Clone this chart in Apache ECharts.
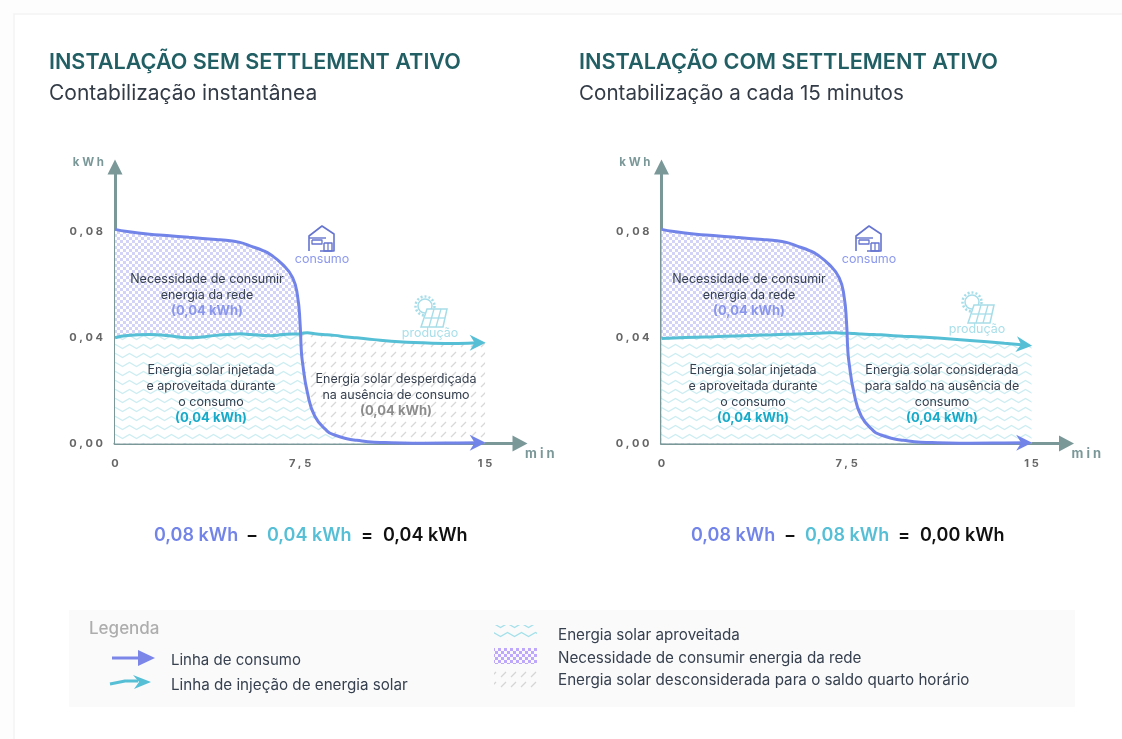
<!DOCTYPE html>
<html>
<head>
<meta charset="utf-8">
<title>Settlement</title>
<script src="https://cdn.jsdelivr.net/npm/echarts@6/dist/echarts.min.js"></script>
<style>
    html, body { margin:0; padding:0; background:#fff; }
    #chart { width:1122px; height:739px; }
</style>
</head>
<body>
<div id="chart"></div>
<script>
// values: minutes / kWh
const times = [0,0.5,1.4,2.1,3,4.1,4.5,5.1,5.5,6,6.3,6.8,7.2,7.4,7.5,7.55,7.6,7.8,8.1,8.6,8.9,9.4,9.8,10.5,11.2,12.5,13.9,14.7,15];
const consumo = [0.0808,0.0800,0.0790,0.0785,0.0778,0.0770,0.0767,0.0758,0.0745,0.0728,0.0713,0.0675,0.0626,0.0556,0.0457,0.0355,0.0306,0.0192,0.0103,0.0047,0.0032,0.0018,0.0012,0.0005,0.0003,0.0001,0.0002,0.0003,0.0003];
const solarEsq = [0.0399,0.0408,0.0411,0.0408,0.0399,0.0408,0.0411,0.0414,0.0411,0.0408,0.0407,0.0411,0.0413,0.0413,0.0413,0.0414,0.0416,0.0418,0.0414,0.0410,0.0408,0.0402,0.0399,0.0392,0.0386,0.0380,0.0377,0.0380,0.0380];
const solarDir = [0.0396,0.0398,0.0401,0.0403,0.0406,0.0409,0.0410,0.0412,0.0413,0.0415,0.0416,0.0418,0.0417,0.0416,0.0416,0.0416,0.0416,0.0415,0.0413,0.0411,0.0410,0.0407,0.0405,0.0402,0.0398,0.0389,0.0378,0.0372,0.0372];
const yTicks = [0, 0.04, 0.08];
const yTickLabels = ['0,00', '0,04', '0,08'];
const xTicks = [0, 7.5, 15];
const xTickLabels = ['0', '7,5', '15'];

const FONT = 'Inter, "Noto Sans", sans-serif';
const AZUL = '#7384e8';
const CIANO = '#56bfd6';
const EIXO = '#7b9899';
const TEXTO = '#36404f';
const ARROW = 'path://M0,0 L16,8 L0,16 L5,8 Z';

function tile(w, h, draw) {
    const c = document.createElement('canvas');
    c.width = w; c.height = h;
    const ctx = c.getContext('2d');
    draw(ctx);
    return { image: c, repeat: 'repeat' };
}
function wavePattern(color, bg) {
    return tile(14, 9, ctx => {
        if (bg) { ctx.fillStyle = bg; ctx.fillRect(0, 0, 14, 9); }
        ctx.strokeStyle = color;
        ctx.lineWidth = 1.3;
        ctx.beginPath();
        ctx.moveTo(-3.5, 6.5); ctx.lineTo(3.5, 2.5); ctx.lineTo(10.5, 6.5); ctx.lineTo(17.5, 2.5);
        ctx.stroke();
    });
}
function checkPattern(color, bg) {
    return tile(6, 6, ctx => {
        if (bg) { ctx.fillStyle = bg; ctx.fillRect(0, 0, 6, 6); }
        ctx.fillStyle = color;
        ctx.fillRect(0, 0, 3, 3);
        ctx.fillRect(3, 3, 3, 3);
    });
}
function hatchPattern(color, bg) {
    return tile(10, 10, ctx => {
        if (bg) { ctx.fillStyle = bg; ctx.fillRect(0, 0, 10, 10); }
        ctx.strokeStyle = color;
        ctx.lineWidth = 1.3;
        ctx.beginPath();
        ctx.moveTo(1, 7); ctx.lineTo(6, 2);
        ctx.stroke();
    });
}

const PX_POR_MIN = 24.67;
const PX_POR_KWH = 2650;
const gridW = 405, gridH = 276.5;
const grids = [
    { left: 115, top: 167, width: gridW, height: gridH },
    { left: 661.5, top: 167, width: gridW, height: gridH }
];

function spaced(s) { return s.split('').join('\u2009\u200a'); }

function xAxisFor(i) {
    return {
        type: 'value', gridIndex: i, min: 0, max: gridW / PX_POR_MIN,
        splitLine: { show: false },
        axisTick: { show: false },
        axisLine: { show: true, symbol: ['none', 'triangle'], symbolSize: [16, 15], lineStyle: { color: EIXO, width: 3 } },
        axisLabel: {
            customValues: xTicks, margin: 15, color: '#666', fontFamily: FONT, fontSize: 11, fontWeight: 700,
            formatter: v => spaced(xTickLabels[xTicks.indexOf(v)])
        },
        name: spaced('min'), nameLocation: 'end', nameGap: 5,
        nameTextStyle: { color: EIXO, fontFamily: FONT, fontSize: 13, fontWeight: 700, align: 'left', verticalAlign: 'top', padding: [4, 0, 0, 0] }
    };
}
function yAxisFor(i) {
    return {
        type: 'value', gridIndex: i, min: 0, max: gridH / PX_POR_KWH,
        splitLine: { show: false },
        axisTick: { show: false },
        axisLine: { show: true, symbol: ['none', 'triangle'], symbolSize: [15, 15], lineStyle: { color: EIXO, width: 3 } },
        axisLabel: {
            customValues: yTicks, margin: 12, color: '#666', fontFamily: FONT, fontSize: 11, fontWeight: 700,
            formatter: v => spaced(yTickLabels[yTicks.indexOf(v)])
        },
        name: spaced('kWh'), nameLocation: 'end', nameGap: 4,
        nameTextStyle: { color: EIXO, fontFamily: FONT, fontSize: 11.5, fontWeight: 700, align: 'right', verticalAlign: 'middle', padding: [0, 11, 0, 0] }
    };
}

function pairs(ys) { return times.map((t, k) => [t, ys[k]]); }

function area(i, name, ys, fill, z) {
    return {
        name: name, type: 'line', xAxisIndex: i, yAxisIndex: i, data: pairs(ys), z: z,
        smooth: 0.5, showSymbol: false, symbol: 'none', silent: true,
        lineStyle: { width: 0 }, areaStyle: { color: fill, opacity: 1 }
    };
}
function curve(i, name, ys, color, rotate, z) {
    // the line stops at 14.7 so that the arrow tip lands on 15
    const n = times.indexOf(14.7);
    const data = pairs(ys).slice(0, n + 1);
    data[n] = { value: data[n], symbol: ARROW, symbolSize: 16, symbolRotate: rotate, itemStyle: { color: color } };
    return {
        name: name, type: 'line', xAxisIndex: i, yAxisIndex: i, data: data, z: z,
        smooth: 0.5, showSymbol: true, showAllSymbol: true, symbol: 'none', silent: true,
        lineStyle: { color: color, width: 3 }, itemStyle: { color: color }
    };
}

const waveFill = wavePattern('#ccedf2', '#fff');
const checkFill = checkPattern('#d2d3f6', '#fff');
const hatchFill = hatchPattern('#d8d8d8', '#fff');
const minimo = consumo.map((c, k) => Math.min(c, solarEsq[k]));

const series = [
    area(0, 'Energia solar desconsiderada', solarEsq, hatchFill, 2),
    area(0, 'Necessidade de consumir energia da rede', consumo, checkFill, 3),
    area(0, 'Energia solar aproveitada', minimo, waveFill, 4),
    curve(0, 'Linha de injeção de energia solar', solarEsq, CIANO, 0, 6),
    curve(0, 'Linha de consumo', consumo, AZUL, 0, 7),
    area(1, 'Necessidade de consumir energia da rede', consumo, checkFill, 3),
    area(1, 'Energia solar aproveitada', solarDir, waveFill, 4),
    curve(1, 'Linha de injeção de energia solar', solarDir, CIANO, -6, 6),
    curve(1, 'Linha de consumo', consumo, AZUL, 0, 7)
];

function txt(x, y, text, size, fill, weight, align, glow) {
    const style = {
        text: text, fill: fill, textAlign: align || 'left', textVerticalAlign: 'middle',
        font: (weight || 400) + ' ' + size + 'px ' + FONT
    };
    if (glow) { style.shadowColor = '#fff'; style.shadowBlur = 5; }
    return { type: 'text', x: x, y: y, z: 20, silent: true, style: style };
}
function stroke(points, color, width, z) {
    return { type: 'polyline', z: z || 20, silent: true, shape: { points: points },
        style: { stroke: color, fill: null, lineWidth: width, lineJoin: 'round' } };
}
function house(dx, dy) {
    const c = '#6574cf';
    const p = a => a.map(q => [q[0] + dx, q[1] + dy]);
    return [
        stroke(p([[9,25],[9,10],[22,0],[34,8],[34,25],[20,25]]), c, 1.6),
        stroke(p([[9,12],[26,12]]), c, 1.4),
        stroke(p([[12,14],[22,14],[22,18],[12,18],[12,14]]), c, 1.3),
        stroke(p([[24,17],[32,17],[32,25],[24,25],[24,17]]), c, 1.4),
        stroke(p([[28,17],[28,25]]), c, 1.2)
    ];
}
function solarIcon(dx, dy) {
    const c = '#a6dde9';
    const p = a => a.map(q => [q[0] + dx, q[1] + dy]);
    return [
        { type: 'circle', z: 20, silent: true, shape: { cx: dx + 11, cy: dy + 11, r: 7 },
          style: { stroke: c, fill: null, lineWidth: 1.5 } },
        { type: 'circle', z: 20, silent: true, shape: { cx: dx + 11, cy: dy + 11, r: 9.5 },
          style: { stroke: c, fill: null, lineWidth: 2.5, lineDash: [2, 2] } },
        { type: 'polygon', z: 21, silent: true, shape: { points: p([[13,14],[33,14],[29,32],[7,32]]) },
          style: { stroke: c, fill: '#fff', lineWidth: 1.5 } },
        stroke(p([[11,23],[31,23]]), c, 1.3, 22),
        stroke(p([[20,14],[15,32]]), c, 1.3, 22),
        stroke(p([[27,14],[22,32]]), c, 1.3, 22)
    ];
}
function arrowShape(points, color) {
    return { type: 'polygon', z: 21, silent: true, shape: { points: points }, style: { fill: color } };
}

const BOLD = 600;
const graphic = [
    { type: 'rect', z: -1, silent: true, shape: { x: 14, y: 14, width: 1120, height: 740 },
      style: { fill: '#fff', stroke: '#f3f3f3', lineWidth: 1.5 } },
    { type: 'rect', z: 1, silent: true, shape: { x: 69, y: 610, width: 1006, height: 97 }, style: { fill: '#fafafa' } },

    txt(49, 62, 'INSTALAÇÃO SEM SETTLEMENT ATIVO', 21.6, '#215f64', BOLD),
    txt(49, 94, 'Contabilização instantânea', 21, '#333b47'),
    txt(579, 62, 'INSTALAÇÃO COM SETTLEMENT ATIVO', 21.7, '#215f64', BOLD),
    txt(579, 94, 'Contabilização a cada 15 minutos', 20.6, '#333b47'),

    // esquerda
    txt(207, 279, 'Necessidade de consumir', 12.5, TEXTO, 400, 'center', true),
    txt(207, 295, 'energia da rede', 12.5, TEXTO, 400, 'center', true),
    txt(207, 311, '(0,04 kWh)', 13, '#8b97ea', 700, 'center', true),
    txt(211, 370, 'Energia solar injetada', 12.5, TEXTO, 400, 'center', true),
    txt(211, 386, 'e aproveitada durante', 12.5, TEXTO, 400, 'center', true),
    txt(211, 402, 'o consumo', 12.5, TEXTO, 400, 'center', true),
    txt(211, 418, '(0,04 kWh)', 13, '#17aac9', 700, 'center', true),
    txt(396, 379, 'Energia solar desperdiçada', 12.5, TEXTO, 400, 'center', true),
    txt(396, 395, 'na ausência de consumo', 12.5, TEXTO, 400, 'center', true),
    txt(396, 411, '(0,04 kWh)', 13, '#8c8c8c', 700, 'center', true),
    txt(322, 259, 'consumo', 12.5, '#8c99ee', 400, 'center'),
    txt(430, 333, 'produção', 12.5, '#a8dfea', 400, 'center'),

    // direita
    txt(749, 279, 'Necessidade de consumir', 12.5, TEXTO, 400, 'center', true),
    txt(749, 295, 'energia da rede', 12.5, TEXTO, 400, 'center', true),
    txt(749, 311, '(0,04 kWh)', 13, '#8b97ea', 700, 'center', true),
    txt(753, 370, 'Energia solar injetada', 12.5, TEXTO, 400, 'center', true),
    txt(753, 386, 'e aproveitada durante', 12.5, TEXTO, 400, 'center', true),
    txt(753, 402, 'o consumo', 12.5, TEXTO, 400, 'center', true),
    txt(753, 418, '(0,04 kWh)', 13, '#17aac9', 700, 'center', true),
    txt(942, 370, 'Energia solar considerada', 12.5, TEXTO, 400, 'center', true),
    txt(942, 386, 'para saldo na ausência de', 12.5, TEXTO, 400, 'center', true),
    txt(942, 402, 'consumo', 12.5, TEXTO, 400, 'center', true),
    txt(942, 418, '(0,04 kWh)', 13, '#17aac9', 700, 'center', true),
    txt(869, 259, 'consumo', 12.5, '#8c99ee', 400, 'center'),
    txt(977, 329, 'produção', 12.5, '#a8dfea', 400, 'center'),

    // formulas
    txt(154, 536, '0,08 kWh', 18, AZUL, BOLD),
    txt(252, 536, '−', 18, '#111', BOLD, 'center'),
    txt(267, 536, '0,04 kWh', 18, CIANO, BOLD),
    txt(367, 536, '=', 18, '#111', BOLD, 'center'),
    txt(383, 536, '0,04 kWh', 18, '#111', BOLD),
    txt(691, 536, '0,08 kWh', 18, AZUL, BOLD),
    txt(790, 536, '−', 18, '#111', BOLD, 'center'),
    txt(805, 536, '0,08 kWh', 18, CIANO, BOLD),
    txt(904, 536, '=', 18, '#111', BOLD, 'center'),
    txt(920, 536, '0,00 kWh', 18, '#111', BOLD),

    // legenda
    txt(89, 629, 'Legenda', 17, '#adadad', 500),
    stroke([[112,658],[140,658]], '#7b86e8', 3),
    txt(171, 660, 'Linha de consumo', 15, TEXTO),
    stroke([[110,684],[125,681],[138,681]], CIANO, 3),
    txt(171, 685, 'Linha de injeção de energia solar', 15.2, TEXTO),
    { type: 'rect', z: 20, silent: true, shape: { x: 494, y: 625, width: 43, height: 16 }, style: { fill: wavePattern('#a3e0ea') } },
    { type: 'rect', z: 20, silent: true, shape: { x: 494, y: 648, width: 43, height: 16 }, style: { fill: checkPattern('#bda8fb') } },
    { type: 'rect', z: 20, silent: true, shape: { x: 494, y: 671, width: 43, height: 17 }, style: { fill: hatchPattern('#d5d5d5') } },
    txt(558, 635, 'Energia solar aproveitada', 15.2, TEXTO),
    txt(558, 658, 'Necessidade de consumir energia da rede', 15.2, TEXTO),
    txt(558, 680, 'Energia solar desconsiderada para o saldo quarto horário', 15.2, TEXTO)
].concat(
    house(300, 226), house(847, 226),
    solarIcon(414, 295), solarIcon(961, 291),
    [
        arrowShape([[138, 650], [155, 658], [138, 666]], '#7b86e8'),
        arrowShape([[133, 675], [151, 682], [134, 689], [139, 682]], CIANO)
    ]
);

const myChart = echarts.init(document.getElementById('chart'));
myChart.setOption({
    animation: false,
    backgroundColor: '#fdfdfd',
    textStyle: { fontFamily: FONT },
    grid: grids,
    xAxis: [xAxisFor(0), xAxisFor(1)],
    yAxis: [yAxisFor(0), yAxisFor(1)],
    series: series,
    graphic: graphic
});
</script>
</body>
</html>
